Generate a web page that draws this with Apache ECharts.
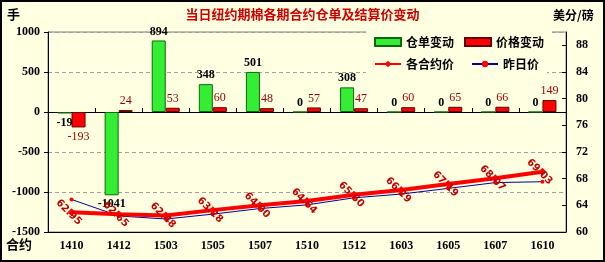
<!DOCTYPE html>
<html><head><meta charset="utf-8">
<script src="https://cdn.jsdelivr.net/npm/echarts@6/dist/echarts.min.js"></script>
<style>html,body{margin:0;padding:0;background:#FFFFE1}#c{width:605px;height:262px}</style>
</head><body><div id="c"></div>
<script>
const categories = ['1410','1412','1503','1505','1507','1510','1512','1603','1605','1607','1610'];
const warrantChange = [-19,-1041,894,348,501,0,308,0,0,0,0];
const priceChange = [-193,24,53,60,48,57,47,60,65,66,149];
const settlePrice = [62.95,62.65,62.48,63.28,64.00,64.64,65.60,66.29,67.19,68.07,69.03];
const prevPrice = [64.88,62.41,61.95,62.68,63.52,64.07,65.13,65.69,66.54,67.41,67.54];
const leftTicks = {min:-1500, max:1000, interval:500};
const rightTicks = {min:60, max:90, interval:4};

const serif = '"Liberation Serif", "Times New Roman", serif';
const cjk = '"Noto Sans CJK SC", sans-serif';
const bg = '#FFFFE1';
const chart = echarts.init(document.getElementById('c'), null, {renderer:'canvas'});
chart.setOption({
  backgroundColor: bg,
  animation: false,
  title: {
    text: '当日纽约期棉各期合约仓单及结算价变动',
    left: 'center', top: 8, padding: 0,
    textStyle: {color:'#CC0000', fontSize:13, fontWeight:'bold', fontFamily:cjk}
  },
  graphic: [
    {type:'rect', shape:{x:1,y:1,width:603,height:260}, style:{fill:'none', stroke:'#000', lineWidth:2}, silent:true, z:100},
    {type:'text', left:7, top:8, style:{text:'手', font:'bold 13px '+cjk, fill:'#000'}},
    {type:'text', left:553, top:9, style:{text:'美分/磅', font:'bold 12px '+cjk, fill:'#000'}},
    {type:'text', left:6, top:238, style:{text:'合约', font:'bold 13px '+cjk, fill:'#000'}}
  ],
  legend: [
    {
      left: 366, top: 31, padding:[5,8,5,8], backgroundColor:bg,
      itemWidth: 26, itemHeight: 8, itemGap: 10,
      textStyle:{fontFamily:cjk, fontWeight:'bold', fontSize:12, color:'#000'},
      data: [{name:'仓单变动', icon:'rect'}, {name:'价格变动', icon:'rect'}]
    },
    {
      left: 366, top: 53, padding:[5,8,5,8], backgroundColor:bg,
      itemWidth: 26, itemHeight: 8, itemGap: 17,
      textStyle:{fontFamily:cjk, fontWeight:'bold', fontSize:12, color:'#000'},
      data: ['各合约价', '昨日价']
    }
  ],
  grid: {left:48, right:39, top:32, bottom:30, show:true, backgroundColor:bg, borderColor:'#808080', borderWidth:1},
  xAxis: [
    {
      type:'category', data:categories, position:'bottom',
      axisLine:{onZero:false, lineStyle:{color:'#000', width:1}},
      axisTick:{show:false},
      axisLabel:{margin:8, fontFamily:serif, fontWeight:'bold', fontSize:12, color:'#000'}
    },
    {
      type:'category', data:categories, position:'bottom',
      axisLine:{onZero:true, lineStyle:{color:'#000', width:1}},
      axisTick:{show:true, inside:true, length:4, lineStyle:{color:'#000'}},
      axisLabel:{show:false}
    }
  ],
  yAxis: [
    {
      type:'value', min:leftTicks.min, max:leftTicks.max, interval:leftTicks.interval,
      axisLine:{show:true, lineStyle:{color:'#000'}},
      axisTick:{show:true, length:4, lineStyle:{color:'#000'}},
      axisLabel:{margin:8, fontFamily:serif, fontWeight:'bold', fontSize:12, color:'#000', formatter: v => String(v)},
      splitLine:{show:true, lineStyle:{color:'#A0A0A0', type:[4,3]}}
    },
    {
      type:'value', min:rightTicks.min, max:rightTicks.max, interval:rightTicks.interval,
      position:'right',
      axisLine:{show:true, lineStyle:{color:'#000'}},
      axisTick:{show:true, inside:true, length:4, lineStyle:{color:'#000'}},
      axisLabel:{margin:10, showMaxLabel:false, fontFamily:serif, fontWeight:'bold', fontSize:12, color:'#000', formatter: v => String(v)},
      splitLine:{show:false}
    }
  ],
  series: [
    {
      name:'仓单变动', type:'bar', xAxisIndex:0, yAxisIndex:0,
      data: warrantChange.map(v => v < 0 ? {value:v, label:{position:'bottom'}} : v),
      barWidth:14, barGap:'0%',
      itemStyle:{color:'#33EE33', borderColor:'#116611', borderWidth:1},
      label:{show:true, position:'top', distance:3, fontFamily:serif, fontWeight:'bold', fontSize:12, color:'#000'}
    },
    {
      name:'价格变动', type:'bar', xAxisIndex:0, yAxisIndex:0,
      data: priceChange.map(v => v < 0 ? {value:v, label:{position:'bottom'}} : v),
      barWidth:14, barGap:'0%',
      itemStyle:{color:'#FF0000', borderColor:'#660000', borderWidth:1},
      label:{show:true, position:'top', distance:3, fontFamily:serif, fontSize:12, color:'#990000'}
    },
    {
      name:'各合约价', type:'line', xAxisIndex:0, yAxisIndex:1,
      data: settlePrice, symbol:'diamond', symbolSize:8,
      lineStyle:{color:'#FF0000', width:4},
      itemStyle:{color:'#FF0000'},
      label:{show:true, position:'inside', rotate:-45, offset:[-2,2], fontFamily:'"DejaVu Sans", sans-serif', fontWeight:'bold', fontSize:10, color:'#C00000',
        formatter: p => Number(p.value).toFixed(2)},
      z:5
    },
    {
      name:'昨日价', type:'line', xAxisIndex:0, yAxisIndex:1,
      data: prevPrice, symbol:'circle', symbolSize:4,
      lineStyle:{color:'#000099', width:1},
      itemStyle:{color:'#FF0000'},
      z:4
    }
  ]
});
</script></body></html>
